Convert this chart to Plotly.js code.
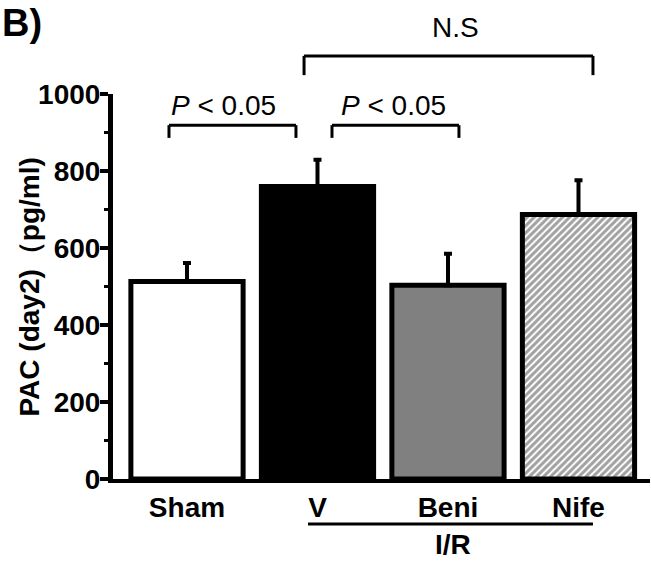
<!DOCTYPE html>
<html>
<head>
<meta charset="utf-8">
<script src="https://cdn.plot.ly/plotly-3.0.1.min.js"></script>
<style>html,body{margin:0;padding:0;background:#fff;}</style>
</head>
<body>
<div id="chart" style="width:651px;height:562px;"></div>
<script>
// ---- data ----
const categories = ["Sham", "V", "Beni", "Nife"];
const pacValues = [513, 760, 503, 687];
const errPlus = [48, 69, 82, 89];
const errMinus = [0, 0, 0, 0];
const fillColors = ["#ffffff", "#000000", "#808080", "#ffffff"];
const patternShapes = ["", "", "", "/"];
const yTickVals = [0, 200, 400, 600, 800, 1000];

const FONT = '"Liberation Sans", Arial, sans-serif';

const trace = {
  type: "bar",
  x: categories,
  y: pacValues,
  width: 0.86,
  marker: {
    color: fillColors,
    line: { color: "#000", width: 5 },
    pattern: { shape: patternShapes, fgcolor: "#000", bgcolor: "#fff", size: 5, solidity: 0.6, fillmode: "overlay" }
  },
  error_y: {
    type: "data", symmetric: false, array: errPlus, arrayminus: errMinus,
    color: "#000", thickness: 4, width: 4
  },
  hoverinfo: "skip"
};

const bracket = (x0, x1, yTop, yBot, w) => ([
  { type: "line", xref: "x", yref: "paper", x0: x0, x1: x1, y0: yTop, y1: yTop, line: { color: "#000", width: w } },
  { type: "line", xref: "x", yref: "paper", x0: x0, x1: x0, y0: yTop, y1: yBot, line: { color: "#000", width: w } },
  { type: "line", xref: "x", yref: "paper", x0: x1, x1: x1, y0: yTop, y1: yBot, line: { color: "#000", width: w } }
]);

const shapes = [].concat(
  bracket(-0.138, 0.835, 0.919, 0.886, 3),
  bracket(1.111, 2.084, 0.919, 0.886, 3),
  bracket(0.897, 3.111, 1.099, 1.049, 3),
  [{ type: "line", xref: "x", yref: "paper", x0: 0.927, x1: 3.111, y0: -0.117, y1: -0.117, line: { color: "#000", width: 3 } }]
);

const txt = (text, xref, x, y, opts) => Object.assign({
  text: text, xref: xref, yref: "paper", x: x, y: y, showarrow: false,
  xanchor: "center", yanchor: "middle",
  font: { family: FONT, size: 28, color: "#000" }
}, opts || {});

const annotations = [
  txt("<i>P</i> &lt; 0.05", "x", 0.276, 0.971),
  txt("<i>P</i> &lt; 0.05", "x", 1.586, 0.971),
  txt("N.S", "x", 2.054, 1.174),
  txt("I/R", "x", 2.038, -0.171, { font: { family: FONT, size: 28, color: "#000", weight: "bold" } }),
  txt("B)", "paper", -0.128, 1.185, { xanchor: "right", font: { family: FONT, size: 38, color: "#000", weight: "bold" } }),
  txt("PAC (day2)（pg/ml)", "paper", -0.1546, 0.5, { textangle: -90, font: { family: FONT, size: 28, color: "#000", weight: "bold" } })
];

const layout = {
  width: 651, height: 562,
  margin: { l: 113, r: 1, t: 94, b: 83, pad: 0 },
  paper_bgcolor: "#fff", plot_bgcolor: "#fff",
  showlegend: false,
  font: { family: FONT, color: "#000" },
  xaxis: {
    type: "category",
    range: [-0.567, 3.548],
    showline: true, linecolor: "#000", linewidth: 4,
    ticks: "", showgrid: false, zeroline: false,
    tickfont: { family: FONT, size: 28, color: "#000", weight: "bold" },
    fixedrange: true
  },
  yaxis: {
    range: [0, 1000],
    tickvals: yTickVals,
    ticktext: yTickVals.map(String),
    showline: true, linecolor: "#000", linewidth: 5,
    ticks: "outside", ticklen: 8, tickwidth: 4, tickcolor: "#000",
    minor: { ticks: "outside", ticklen: 4, tickwidth: 3, tickcolor: "#000", dtick: 100, tick0: 0 },
    ticklabelstandoff: -6,
    showgrid: false, zeroline: false,
    tickfont: { family: FONT, size: 28, color: "#000", weight: "bold" },
    fixedrange: true
  },
  shapes: shapes,
  annotations: annotations
};

Plotly.newPlot("chart", [trace], layout, { displayModeBar: false, staticPlot: true });
</script>
</body>
</html>
